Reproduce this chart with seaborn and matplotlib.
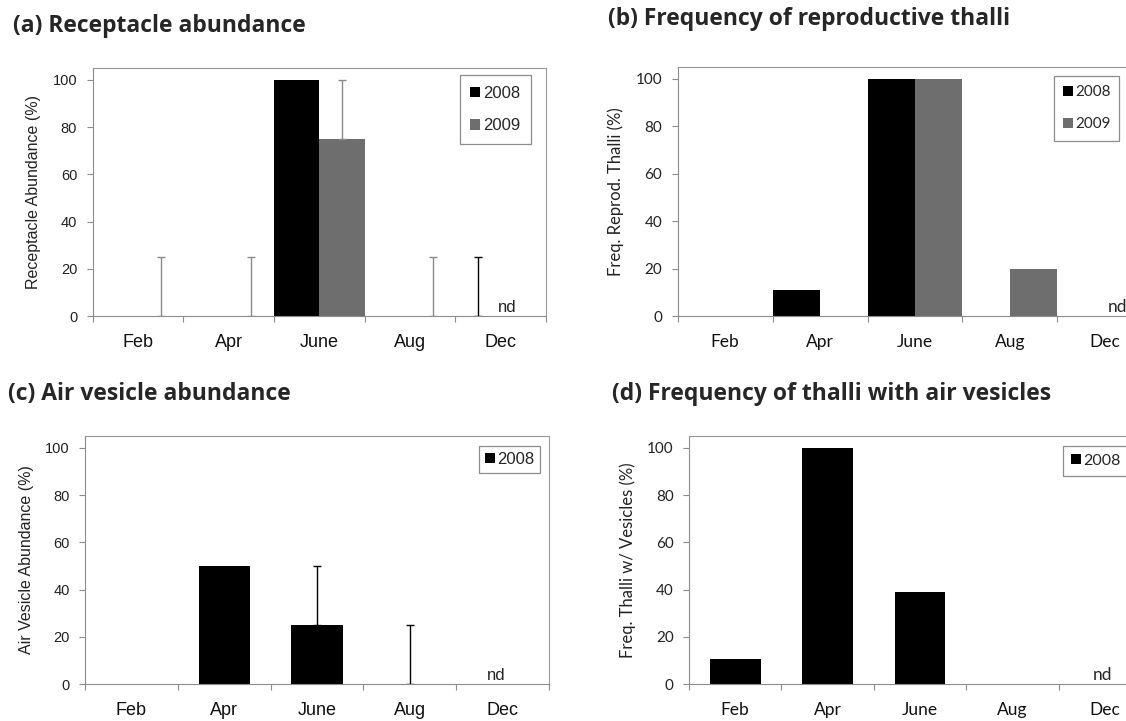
import numpy as np
import pandas as pd
import matplotlib
matplotlib.use("Agg")
import matplotlib.pyplot as plt
import seaborn as sns
from matplotlib.patches import Patch

months = ['Feb', 'Apr', 'June', 'Aug', 'Dec']
years = ['2008', '2009']

# (a) receptacle abundance
a_2008 = [0, 0, 100, 0, 0]
a_2008_err = [0, 0, 0, 0, 25]
a_2009 = [0, 0, 75, 0, np.nan]
a_2009_err = [25, 25, 25, 25, 0]

# (b) frequency of reproductive thalli
b_2008 = [0, 11, 100, 0, np.nan]
b_2009 = [0, 0, 100, 20, np.nan]

# (c) air vesicle abundance
c_2008 = [0, 50, 25, 0, np.nan]
c_2008_err = [0, 0, 25, 25, 0]

# (d) frequency of thalli with air vesicles
d_2008 = [10.5, 100, 39, 0, np.nan]

colors = {'2008': '#000000', '2009': '#6e6e6e'}
err_colors = {'2008': '#000000', '2009': '#8a8a8a'}

narrow = ['Liberation Sans Narrow', 'Liberation Sans', 'DejaVu Sans']
calib = ['Lato', 'DejaVu Sans']
title_font = ['Open Sans', 'DejaVu Sans']

sns.set_style('white')
W, H = 1126, 721
fig = plt.figure(figsize=(W / 100, H / 100), dpi=100)


def px_axes(left, top, right, bottom):
    return fig.add_axes([left / W, 1 - bottom / H, (right - left) / W, (bottom - top) / H])


def style_axes(ax, font, xsize, ysize, ylabel, ylsize):
    ax.set_xlim(-0.5, 4.5)
    ax.set_ylim(0, 105)
    ax.set_yticks([0, 20, 40, 60, 80, 100])
    ax.set_xticks(np.arange(-0.5, 5, 1))
    ax.set_xticklabels([])
    ax.set_xticks(range(5), minor=True)
    ax.set_xticklabels(months, minor=True, family=font, fontsize=xsize)
    ax.tick_params(axis='x', which='major', length=4.5, width=0.8, color='#8c8c8c', direction='out', bottom=True)
    ax.tick_params(axis='x', which='minor', length=0, pad=13)
    ax.tick_params(axis='y', length=4, width=0.8, color='#8c8c8c', direction='out', left=True, pad=7)
    for lab in ax.get_yticklabels():
        lab.set_family(font)
        lab.set_fontsize(ysize)
        lab.set_color('#222222')
    for lab in ax.get_xticklabels(minor=True):
        lab.set_color('#111111')
    for s in ax.spines.values():
        s.set_visible(True)
        s.set_color('#999999')
        s.set_linewidth(0.8)
    ax.spines['left'].set_color('#8c8c8c')
    ax.spines['bottom'].set_color('#8c8c8c')
    ax.set_xlabel('')
    ax.set_ylabel(ylabel, family=font, fontsize=ylsize, color='#222222', labelpad=8)


def add_legend(ax, labels, font, size, loc, anchor, spacing, pad):
    handles = [Patch(facecolor=colors[y], edgecolor='none') for y in labels]
    leg = ax.legend(handles, labels, loc=loc, bbox_to_anchor=anchor, frameon=True,
                    fancybox=False, framealpha=1, edgecolor='#8c8c8c',
                    handlelength=0.6, handleheight=0.6, handletextpad=0.15,
                    labelspacing=spacing, borderpad=pad, borderaxespad=0,
                    prop={'family': font, 'size': size})
    leg.get_frame().set_linewidth(0.9)
    return leg


def long_df(s2008, s2009):
    return pd.DataFrame({
        'month': months * 2,
        'year': ['2008'] * 5 + ['2009'] * 5,
        'value': list(s2008) + list(s2009),
    })


# ---- (a)
ax_a = px_axes(92.5, 68, 546, 316)
sns.barplot(data=long_df(a_2008, a_2009), x='month', y='value', hue='year', order=months,
            hue_order=years, palette=colors, width=1.0, errorbar=None, linewidth=0,
            legend=False, ax=ax_a)
pos = np.arange(5)
for yr, vals, errs, off in [('2008', a_2008, a_2008_err, -0.25), ('2009', a_2009, a_2009_err, 0.25)]:
    v = np.nan_to_num(np.array(vals, dtype=float))
    e = np.array(errs, dtype=float)
    m = e > 0
    ax_a.errorbar(pos[m] + off, v[m], yerr=[np.zeros(m.sum()), e[m]], fmt='none',
                  ecolor=err_colors[yr], elinewidth=1.0, capsize=2.6, capthick=1.0)
style_axes(ax_a, narrow, 13, 10.5, 'Receptacle Abundance (%)', 11.5)
add_legend(ax_a, years, narrow, 12, 'upper right', (0.967, 0.972), 1.05, 0.65)
ax_a.text(4.07, 1.8, 'nd', family=narrow, fontsize=12, ha='center', va='baseline')

# ---- (b)
ax_b = px_axes(677.5, 67, 1152.5, 316)
sns.barplot(data=long_df(b_2008, b_2009), x='month', y='value', hue='year', order=months,
            hue_order=years, palette=colors, width=1.0, errorbar=None, linewidth=0,
            legend=False, ax=ax_b)
style_axes(ax_b, calib, 12.5, 11, 'Freq. Reprod. Thalli (%)', 12)
add_legend(ax_b, years, calib, 11, 'upper left', (0.793, 0.964), 1.2, 0.6)
ax_b.text(4.13, 1.8, 'nd', family=calib, fontsize=12.5, ha='center', va='baseline')

# ---- (c)
ax_c = px_axes(85, 436, 549, 684)
dfc = pd.DataFrame({'month': months, 'value': c_2008})
sns.barplot(data=dfc, x='month', y='value', order=months, color=colors['2008'],
            width=0.55, errorbar=None, linewidth=0, ax=ax_c)
v = np.nan_to_num(np.array(c_2008, dtype=float))
e = np.array(c_2008_err, dtype=float)
m = e > 0
ax_c.errorbar(pos[m], v[m], yerr=[np.zeros(m.sum()), e[m]], fmt='none',
              ecolor='#000000', elinewidth=1.0, capsize=2.6, capthick=1.0)
style_axes(ax_c, narrow, 13, 10.5, 'Air Vesicle Abundance (%)', 11.5)
add_legend(ax_c, ['2008'], narrow, 12, 'upper right', (0.981, 0.96), 1.0, 0.35)
ax_c.text(3.93, 1.8, 'nd', family=narrow, fontsize=12, ha='center', va='baseline')

# ---- (d)
ax_d = px_axes(689, 436, 1151, 684)
dfd = pd.DataFrame({'month': months, 'value': d_2008})
sns.barplot(data=dfd, x='month', y='value', order=months, color=colors['2008'],
            width=0.55, errorbar=None, linewidth=0, ax=ax_d)
style_axes(ax_d, calib, 12.5, 11, 'Freq. Thalli w/ Vesicles (%)', 12)
add_legend(ax_d, ['2008'], calib, 11.5, 'upper left', (0.81, 0.96), 1.0, 0.5)
ax_d.text(3.97, 1.8, 'nd', family=calib, fontsize=12.5, ha='center', va='baseline')

# panel titles
tkw = dict(family=title_font, fontsize=16.5, fontweight='bold', va='baseline', ha='left')
fig.text(13 / W, 1 - 32 / H, '(a) Receptacle abundance', **tkw)
fig.text(608 / W, 1 - 25 / H, '(b) Frequency of reproductive thalli', **tkw)
fig.text(8 / W, 1 - 400 / H, '(c) Air vesicle abundance', **tkw)
fig.text(612 / W, 1 - 400 / H, '(d) Frequency of thalli with air vesicles', **tkw)

fig.savefig('out.png', dpi=100)
